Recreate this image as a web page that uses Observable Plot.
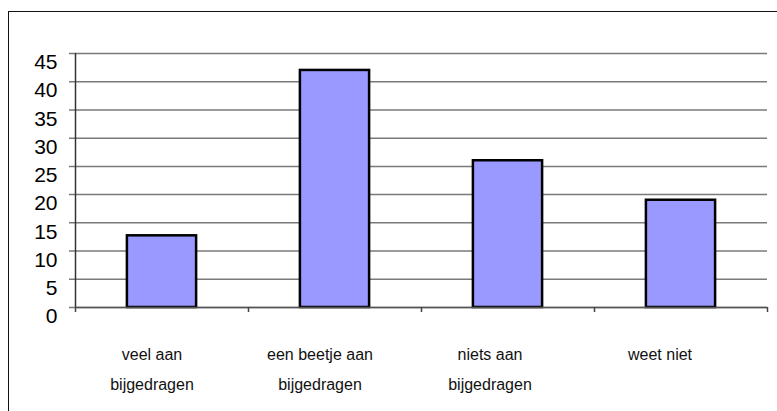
<!DOCTYPE html>
<html>
<head>
<meta charset="utf-8">
<script src="https://cdn.jsdelivr.net/npm/d3@7"></script>
<script src="https://cdn.jsdelivr.net/npm/@observablehq/plot@0.6"></script>
<style>
  html, body { margin: 0; padding: 0; background: #fff; }
  #wrap { position: relative; width: 777px; height: 411px; overflow: hidden; }
  #border { position: absolute; left: 8px; top: 11px; width: 800px; height: 420px;
            border-left: 1.5px solid #111; border-top: 1.5px solid #111; }
  #chart { position: absolute; left: 0; top: 0; }
</style>
</head>
<body>
<div id="wrap"><div id="border"></div><div id="chart"></div></div>
<script>
// Survey answers (percent of respondents)
const categories = ["veel aan\nbijgedragen", "een beetje aan\nbijgedragen", "niets aan\nbijgedragen", "weet niet"];
const values = [12.7, 42, 26, 19];
const yTicks = [0, 5, 10, 15, 20, 25, 30, 35, 40, 45];
const xBoundaries = [0, 1, 2, 3, 4];

const data = categories.map((label, i) => ({label, value: values[i], i}));

// category labels are set a little left of the bar centres
const labelMarks = data.map((d, i) => Plot.text([d], {
  x: d => d.i + 0.5, y: 0, text: "label",
  frameAnchor: "bottom", lineAnchor: "top", dy: 31, dx: [-10, -15, -18, -21][i],
  fontSize: 16, lineHeight: 1.875, fill: "#111"
}));

const plot = Plot.plot({
  width: 777,
  height: 411,
  marginLeft: 75,
  marginRight: 10,
  marginTop: 53,
  marginBottom: 104,
  style: {fontFamily: "Arial, 'Liberation Sans', sans-serif", background: "transparent"},
  x: {domain: [0, 4], axis: null},
  y: {domain: [0, 45], axis: null},
  marks: [
    // gridlines run a few pixels past the y axis, forming the tick stubs
    Plot.gridY(yTicks, {stroke: "#7a7a7a", strokeOpacity: 1, strokeWidth: 1.5, insetLeft: -6}),
    // tick labels sit slightly below their gridlines
    Plot.axisY(yTicks, {
      tickSize: 0, tickPadding: 18, fontSize: 21, dy: 9, label: null,
      fill: "#000", tickFormat: d => String(d)
    }),
    Plot.rectY(data, {
      x1: d => d.i + 0.3, x2: d => d.i + 0.7, y1: 0, y2: "value",
      fill: "#9999ff", stroke: "#000", strokeWidth: 2.5
    }),
    Plot.ruleX([0], {y1: 0, y2: 45, stroke: "#333", strokeWidth: 1.5}),
    Plot.ruleY([0], {stroke: "#555", strokeWidth: 1.5}),
    Plot.axisX(xBoundaries, {tickSize: 5, tickFormat: () => "", label: null, stroke: "#444", strokeWidth: 1.5}),
    ...labelMarks
  ]
});
document.getElementById("chart").appendChild(plot);
</script>
</body>
</html>
